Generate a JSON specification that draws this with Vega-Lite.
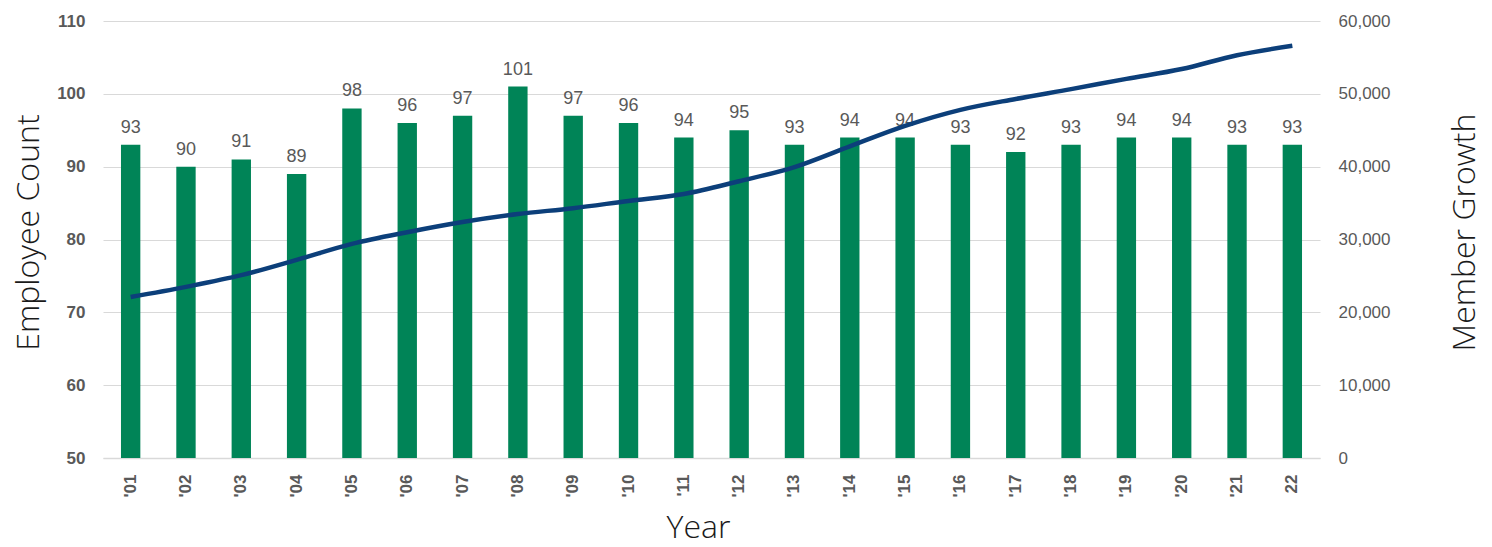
{
  "$schema": "https://vega.github.io/schema/vega-lite/v6.json",
  "width": 1217,
  "height": 437,
  "autosize": {"type": "none"},
  "padding": {"left": 103, "top": 21, "right": 172, "bottom": 89},
  "background": "white",
  "config": {"view": {"stroke": null}},
  "data": {"values": [
    {"year": "'01", "emp": 93, "members": 22100},
    {"year": "'02", "emp": 90, "members": 23500},
    {"year": "'03", "emp": 91, "members": 25100},
    {"year": "'04", "emp": 89, "members": 27200},
    {"year": "'05", "emp": 98, "members": 29400},
    {"year": "'06", "emp": 96, "members": 31000},
    {"year": "'07", "emp": 97, "members": 32400},
    {"year": "'08", "emp": 101, "members": 33500},
    {"year": "'09", "emp": 97, "members": 34300},
    {"year": "'10", "emp": 96, "members": 35300},
    {"year": "'11", "emp": 94, "members": 36250},
    {"year": "'12", "emp": 95, "members": 38000},
    {"year": "'13", "emp": 93, "members": 39950},
    {"year": "'14", "emp": 94, "members": 42800},
    {"year": "'15", "emp": 94, "members": 45600},
    {"year": "'16", "emp": 93, "members": 47800},
    {"year": "'17", "emp": 92, "members": 49300},
    {"year": "'18", "emp": 93, "members": 50650},
    {"year": "'19", "emp": 94, "members": 52050},
    {"year": "'20", "emp": 94, "members": 53400},
    {"year": "'21", "emp": 93, "members": 55300},
    {"year": "'22", "emp": 93, "members": 56600}
  ]},
  "encoding": {
    "x": {
      "field": "year", "type": "ordinal", "sort": null,
      "scale": {"paddingInner": 0.65, "paddingOuter": 0.325},
      "axis": {
        "title": "Year", "labelAngle": 270, "labelFont": "Liberation Sans", "labelFontWeight": "bold",
        "labelFontSize": 17, "labelColor": "#595959", "labelPadding": 16, "ticks": false,
        "domainColor": "#d9d9d9", "domainWidth": 1.5,
        "labelExpr": "datum.value == \"'22\" ? '22' : datum.value",
        "titleFont": "Open Sans", "titleFontWeight": 300, "titleFontSize": 32, "titleColor": "#1a1a1a",
        "titleX": 595, "titlePadding": 16
      }
    }
  },
  "layer": [
    {
      "mark": {"type": "bar", "color": "#008457"},
      "encoding": {
        "y": {
          "field": "emp", "type": "quantitative",
          "scale": {"domain": [50, 110], "zero": false, "clamp": true},
          "axis": {
            "title": "Employee Count", "values": [50, 60, 70, 80, 90, 100, 110],
            "labelFont": "Liberation Sans", "labelFontWeight": "bold", "labelFontSize": 17,
            "labelColor": "#595959", "labelPadding": 18, "ticks": false, "domain": false,
            "gridColor": "#d9d9d9", "gridWidth": 1,
            "titleBaseline": "middle", "titleAlign": "center", "titleX": -75, "titleY": 211,
            "titleFont": "Open Sans", "titleFontWeight": 300, "titleFontSize": 32, "titleColor": "#1a1a1a"
          }
        }
      }
    },
    {
      "mark": {"type": "text", "baseline": "bottom", "dy": -8, "font": "Liberation Sans", "fontSize": 18, "color": "#595959"},
      "encoding": {
        "y": {"field": "emp", "type": "quantitative", "scale": {"domain": [50, 110], "zero": false}, "axis": null},
        "text": {"field": "emp", "type": "quantitative"}
      }
    },
    {
      "mark": {"type": "line", "color": "#0c3f7a", "strokeWidth": 4.5, "interpolate": "monotone"},
      "encoding": {
        "y": {
          "field": "members", "type": "quantitative",
          "scale": {"domain": [0, 60000]},
          "axis": {
            "title": "Member Growth", "orient": "right", "values": [0, 10000, 20000, 30000, 40000, 50000, 60000],
            "format": ",d", "grid": false, "ticks": false, "domain": false,
            "labelFont": "Liberation Sans", "labelFontSize": 17, "labelColor": "#595959", "labelPadding": 18,
            "titleAngle": 270, "titleBaseline": "middle", "titleAlign": "center", "titleX": 144, "titleY": 211,
            "titleFont": "Open Sans", "titleFontWeight": 300, "titleFontSize": 32, "titleColor": "#1a1a1a"
          }
        }
      }
    }
  ],
  "resolve": {"scale": {"y": "independent"}}
}
